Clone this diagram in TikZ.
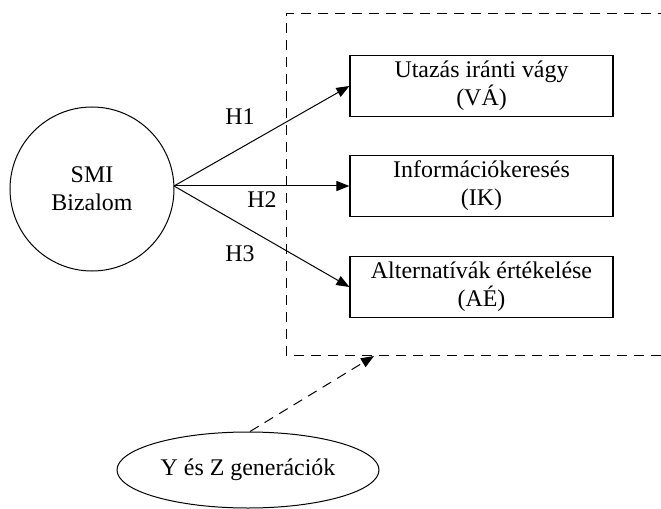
\documentclass[tikz,border=0pt]{standalone}
\usepackage{fontspec}
\setmainfont{Liberation Serif}
\usetikzlibrary{arrows.meta,shapes.geometric}
\begin{document}
\begin{tikzpicture}[x=1bp,y=-1bp,
  every node/.style={font=\fontsize{24}{28}\selectfont},
  lbox/.style={draw,line width=1.2bp,minimum width=263bp,minimum height=61bp,align=center,inner sep=0pt},
  conn/.style={line width=1bp,-{Triangle[length=13bp,width=10bp]}},
  dconn/.style={line width=1bp,dash pattern=on 10bp off 7bp,-{Triangle[length=13bp,width=10bp]}},
  lab/.style={inner sep=0pt}]
\useasboundingbox (0,0) rectangle (661,509);
\draw[line width=1bp,dash pattern=on 10bp off 7bp] (668,14) -- (286,14) -- (286,355) -- (668,355);
\coordinate (boxin) at (374,356);
\node[draw,circle,line width=1bp,minimum size=164bp,inner sep=0pt,align=center] (smi) at (92,189) {SMI\\Bizalom};
\node[lbox] (va) at (481.5,86) {Utazás iránti vágy\\(VÁ)};
\node[lbox] (ik) at (481.5,186) {Információkeresés\\(IK)};
\node[lbox] (ae) at (481.5,287) {Alternatívák értékelése\\(AÉ)};
\node[draw,ellipse,line width=1bp,minimum width=262bp,minimum height=76bp,inner sep=0pt] (yz) at (248,470) {Y és Z generációk};
\coordinate (o) at (174,186);
\draw[conn] (o) -- (va.west);
\draw[conn] (o) -- (ik.west);
\draw[conn] (o) -- (ae.west);
\node[lab] (h1) at (240,117) {H1};
\node[lab] (h2) at (262,200) {H2};
\node[lab] (h3) at (240,254) {H3};
\draw[dconn] (yz.north) ++(2,0) -- (boxin);
\end{tikzpicture}
\end{document}
